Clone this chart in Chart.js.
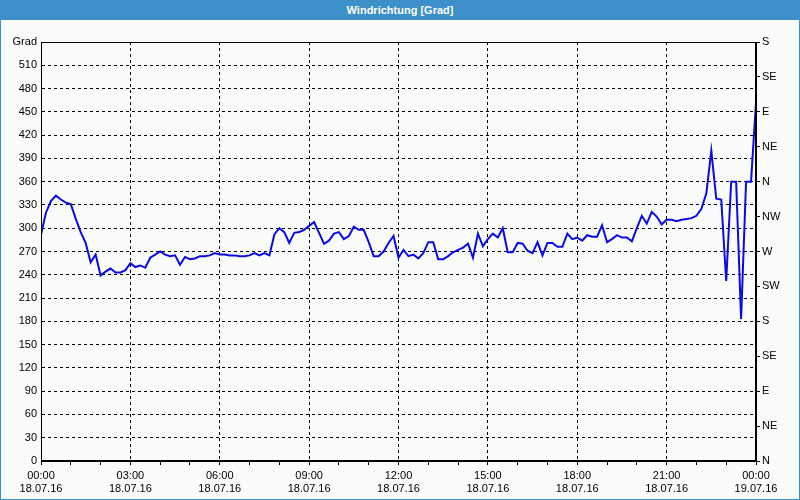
<!DOCTYPE html>
<html>
<head>
<meta charset="utf-8">
<script src="https://cdn.jsdelivr.net/npm/chart.js@4"></script>
<style>
  body { margin: 0; background: #fff; }
  #wrap { position: relative; width: 800px; height: 500px; box-sizing: border-box;
          border: 1px solid #3c8fc7; border-top: none; background: #fafcfa; }
  #title { position: absolute; left: -1px; top: 0; width: 800px; height: 20px; background: #3c8fc7;
           color: #fff; font: bold 11px "Liberation Sans", sans-serif; text-align: center; line-height: 20px; }
  #chart { position: absolute; left: 0; top: 20px; }
</style>
</head>
<body>
<div id="wrap">
  <div id="title">Windrichtung [Grad]</div>
  <canvas id="chart" width="798" height="479"></canvas>
</div>
<script>
// wind direction in degrees, one reading every 10 minutes from 18.07.16 00:00
const stepMinutes = 10;
const windDir = [
  292, 320, 335, 342, 337, 333, 331, 312, 295, 281,
  256, 266, 239, 244, 248, 243, 243, 246, 255, 250,
  252, 249, 262, 266, 270, 266, 264, 265, 253, 263,
  260, 261, 264, 264, 265, 268, 266, 266, 265, 265,
  264, 264, 265, 268, 265, 268, 265, 292, 300, 295,
  281, 294, 295, 298, 303, 308, 294, 280, 284, 293,
  295, 286, 290, 302, 298, 298, 282, 264, 264, 270,
  281, 290, 262, 272, 264, 266, 261, 268, 282, 282,
  260, 260, 264, 269, 272, 275, 280, 262, 293, 277,
  286, 293, 288, 300, 269, 269, 281, 280, 271, 268,
  282, 265, 281, 281, 276, 276, 293, 286, 288, 284,
  291, 289, 289, 304, 282, 286, 291, 288, 288, 283,
  300, 316, 306, 321, 315, 305, 311, 311, 309, 311,
  312, 313, 316, 325, 345, 400, 338, 337, 232, 360,
  360, 183, 360, 360, 462
];

const timeLabels = ['00:00', '03:00', '06:00', '09:00', '12:00', '15:00', '18:00', '21:00', '00:00'];
const dateLabels = ['18.07.16', '18.07.16', '18.07.16', '18.07.16', '18.07.16', '18.07.16', '18.07.16', '18.07.16', '19.07.16'];
const dirLabels = ['N', 'NE', 'E', 'SE', 'S', 'SW', 'W', 'NW', 'N', 'NE', 'E', 'SE', 'S'];

const points = windDir.map((v, i) => ({ x: i * stepMinutes, y: v }));
const font = { family: 'Liberation Sans', size: 11 };

const frame = {
  id: 'frame',
  afterDraw(chart) {
    const a = chart.chartArea, ctx = chart.ctx;
    ctx.save();
    ctx.strokeStyle = '#000';
    ctx.lineWidth = 1;
    ctx.strokeRect(Math.round(a.left) + 0.5, Math.round(a.top) + 0.5,
                   Math.round(a.right - a.left) - 1, Math.round(a.bottom - a.top) - 1);
    ctx.restore();
  }
};

new Chart(document.getElementById('chart'), {
  type: 'line',
  data: {
    datasets: [{
      data: points,
      borderColor: '#0a0ae6',
      borderWidth: 2,
      pointRadius: 0,
      tension: 0,
      fill: false
    }]
  },
  options: {
    responsive: false,
    animation: false,
    layout: { padding: { top: 22, left: 0, right: 0, bottom: 0 } },
    plugins: { legend: { display: false }, tooltip: { enabled: false } },
    scales: {
      x: {
        type: 'linear',
        min: 0,
        max: 1440,
        afterFit: s => { s.height = 38; },
        border: { color: '#000', dash: [3, 3] },
        grid: {
          color: c => (c.tick.value % 180 === 0 ? '#000' : 'rgba(0,0,0,0)'),
          tickColor: '#000',
          tickLength: 4
        },
        ticks: {
          stepSize: 60,
          autoSkip: false,
          maxRotation: 0,
          color: '#000',
          font: font,
          padding: 4,
          callback: v => (v % 180 === 0 ? [timeLabels[v / 180], dateLabels[v / 180]] : '')
        }
      },
      y: {
        position: 'left',
        min: 0,
        max: 540,
        afterFit: s => { s.width = 40; },
        border: { color: '#000', dash: [3, 3] },
        grid: { color: '#000', drawTicks: false },
        ticks: {
          stepSize: 30,
          color: '#000',
          font: font,
          padding: 4,
          callback: v => (v === 540 ? 'Grad' : v)
        }
      },
      y2: {
        position: 'right',
        min: 0,
        max: 540,
        afterFit: s => { s.width = 43; },
        border: { color: '#000' },
        grid: { drawOnChartArea: false, tickColor: '#000', tickLength: 4 },
        ticks: {
          stepSize: 45,
          color: '#000',
          font: font,
          padding: 2,
          callback: v => dirLabels[v / 45]
        }
      }
    }
  },
  plugins: [frame]
});
</script>
</body>
</html>
